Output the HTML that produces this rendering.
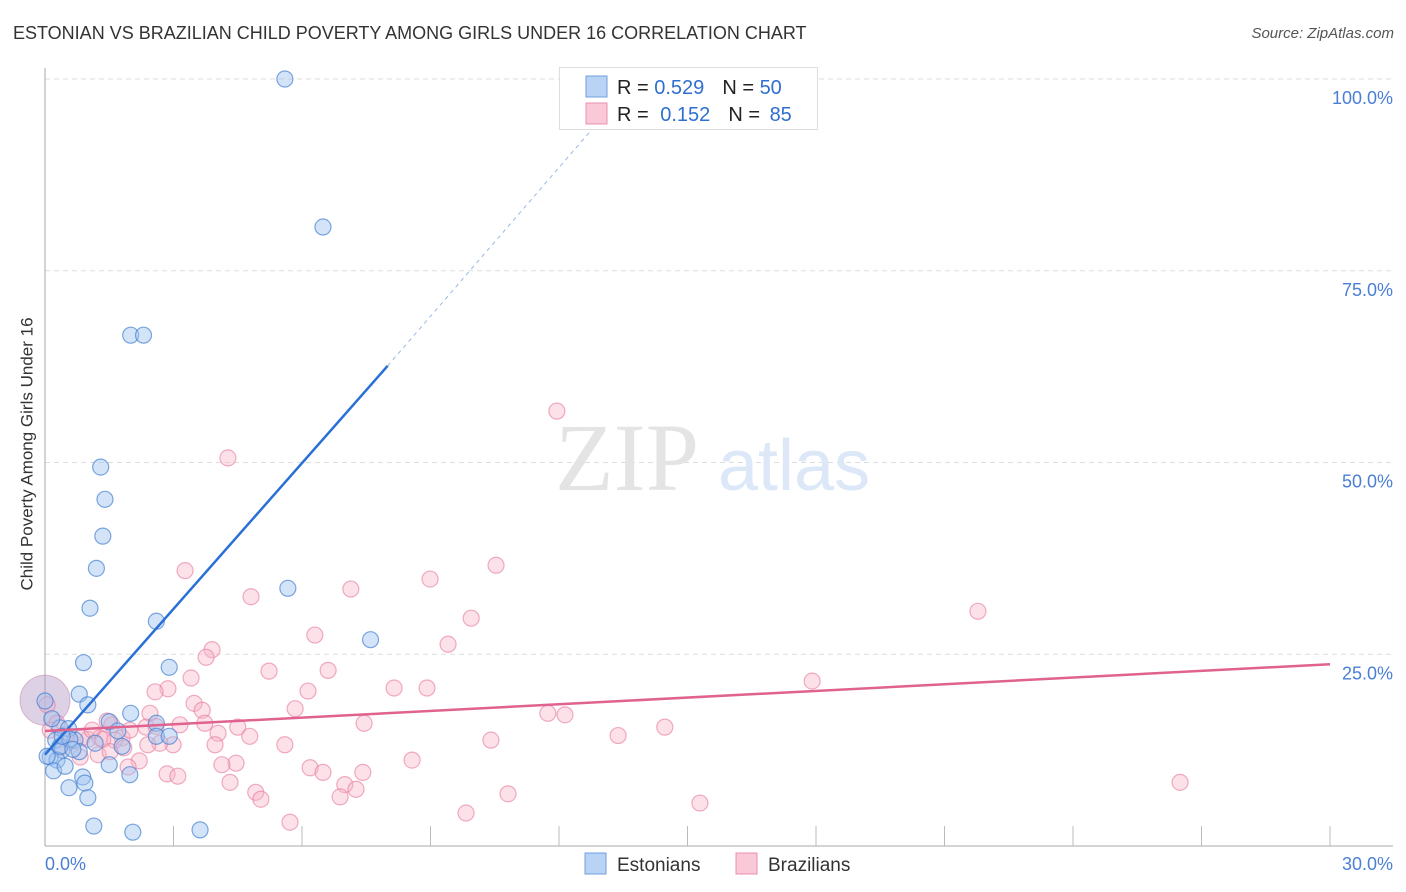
<!DOCTYPE html>
<html><head><meta charset="utf-8"><style>
body{margin:0;background:#fff;font-family:"Liberation Sans",sans-serif;}
#wrap{position:relative;width:1406px;height:892px;overflow:hidden}
.t{position:absolute;white-space:nowrap}
</style></head><body><div id="wrap">
<div class="t" style="left:13px;top:23px;font-size:18px;color:#333;letter-spacing:0px">ESTONIAN VS BRAZILIAN CHILD POVERTY AMONG GIRLS UNDER 16 CORRELATION CHART</div>
<div class="t" style="right:12px;top:25px;font-size:15px;color:#555;font-style:italic">Source: ZipAtlas.com</div>
<div class="t" style="left:-109px;top:444px;font-size:17px;color:#333;transform:rotate(-90deg)">Child Poverty Among Girls Under 16</div>
<svg id="svg" width="1406" height="892" style="position:absolute;left:0;top:0"></svg>
</div>
<script>
const xTicks=[0,30];
const yTicks=[25,50,75,100];
const estX=[5.6,6.49,2.0,2.3,1.3,1.4,1.35,1.2,1.05,2.6,5.67,7.6,0.9,2.9,0.8,1.0,2.0,1.5,2.6,0.35,0.55,1.7,2.6,2.9,0.7,0.25,1.8,0.4,0.8,0.12,0.28,1.5,0.2,0.47,0.88,0.93,0.56,1.98,1.0,1.14,2.05,3.62,0.05,0.35,0.58,0.16,0.0,0.4,0.65,1.17];
const estY=[100,80.7,66.6,66.6,49.4,45.2,40.4,36.2,31.0,29.3,33.6,26.9,23.9,23.3,19.8,18.4,17.3,16.2,16.0,15.4,15.3,15.0,14.3,14.3,13.8,13.8,13.0,12.5,12.3,11.6,11.2,10.6,9.8,10.4,9.0,8.2,7.6,9.3,6.3,2.6,1.8,2.1,11.7,13.0,13.9,16.6,18.9,14.3,12.6,13.4];
const braX=[11.95,4.27,3.27,10.53,8.99,7.14,4.81,21.78,9.95,6.3,9.41,3.9,3.76,2.87,5.23,6.61,3.41,17.91,8.15,8.92,6.14,2.57,3.48,3.67,5.84,2.45,11.74,12.14,1.45,4.5,7.45,14.47,2.36,2.59,3.15,4.04,13.38,10.41,5.6,0.28,0.05,1.8,1.0,1.28,1.63,3.97,2.99,2.68,1.84,1.24,4.46,8.57,4.13,2.2,1.94,6.19,6.49,7.42,2.85,3.1,7.0,4.32,7.26,4.92,6.89,5.04,26.5,10.81,9.83,15.29,5.72,0.86,0.58,0.35,0.12,1.98,1.56,2.4,0.49,1.35,1.1,3.73,4.78,0.82,1.52];
const braY=[56.7,50.6,35.9,36.6,34.8,33.5,32.5,30.6,29.7,27.5,26.3,25.6,24.6,20.5,22.8,22.9,21.9,21.5,20.6,20.6,20.2,20.1,18.6,17.7,17.9,17.3,17.3,17.1,16.3,15.5,16.0,15.5,15.5,15.6,15.8,14.7,14.4,13.8,13.2,16.0,18.4,14.1,13.9,14.1,13.8,13.2,13.2,13.4,12.8,11.9,10.8,11.2,10.6,11.1,10.3,10.2,9.6,9.6,9.4,9.1,8.0,8.3,7.4,7.0,6.4,6.1,8.3,6.8,4.3,5.6,3.1,14.1,13.6,12.8,15.1,15.1,15.8,13.2,14.5,13.9,15.1,16.0,14.3,11.6,12.3];
const blueLine=[0,11.9,8.0,62.6];
const blueDash=[8.0,62.6,12.95,94.6];
const pinkLine=[0,15.0,30,23.7];
const X=v=>45+v/30*1285, Y=v=>846-v/100*767;
const svg=document.getElementById('svg'),NS='http://www.w3.org/2000/svg';
function mk(t,a,p){const e=document.createElementNS(NS,t);for(const k in a)e.setAttribute(k,a[k]);(p||svg).appendChild(e);return e;}
yTicks.forEach(v=>{
const g=mk('line',{x1:45,x2:1393,y1:Y(v),y2:Y(v),stroke:'#ddd','stroke-dasharray':'5,4'});


const t=mk('text',{x:1393,y:Y(v)+25,'text-anchor':'end','font-size':18,fill:'#4a7fd4','font-family':'Liberation Sans'});
t.textContent=v.toFixed(1)+'%';


});
const ax=mk('line',{x1:45,x2:45,y1:68,y2:846,stroke:'#aaa'});


const bx=mk('line',{x1:45,x2:1393,y1:846,y2:846,stroke:'#aaa'});


for(let i=1;i<=10;i++){const x=X(i*3);const tk=mk('line',{x1:x,x2:x,y1:826,y2:846,stroke:'#bbb'});

}
xTicks.forEach((v,i)=>{const t=mk('text',{x:i?1393:45,y:870,'text-anchor':i?'end':'start','font-size':18,fill:'#4a7fd4','font-family':'Liberation Sans'});t.textContent=v.toFixed(1)+'%';

});
const w=mk('text',{x:555,y:490,'font-size':96,fill:'#e4e4e4','font-family':'Liberation Serif'});w.textContent='ZIP';


const w2=mk('text',{x:718,y:490,'font-size':72,fill:'#dce8f8','font-family':'Liberation Sans'});w2.textContent='atlas';


const bg=mk('circle',{cx:X(0),cy:Y(19),r:25,fill:'rgba(170,140,190,0.4)',stroke:'rgba(200,120,160,0.5)'});


braX.forEach((v,i)=>{const c=mk('circle',{cx:X(v),cy:Y(braY[i]),r:8,fill:'rgba(248,180,200,0.4)',stroke:'rgba(230,120,155,0.6)','stroke-width':1.2});

});
estX.forEach((v,i)=>{const c=mk('circle',{cx:X(v),cy:Y(estY[i]),r:8,fill:'rgba(160,195,240,0.45)',stroke:'rgba(70,130,210,0.7)','stroke-width':1.2});

});
const bl=mk('line',{x1:X(blueLine[0]),y1:Y(blueLine[1]),x2:X(blueLine[2]),y2:Y(blueLine[3]),stroke:'#2a6fd6','stroke-width':2.5});


const bd=mk('line',{x1:X(blueDash[0]),y1:Y(blueDash[1]),x2:X(blueDash[2]),y2:Y(blueDash[3]),stroke:'#9ab8e0','stroke-width':1,'stroke-dasharray':'4,4'});


const pl=mk('line',{x1:X(pinkLine[0]),y1:Y(pinkLine[1]),x2:X(pinkLine[2]),y2:Y(pinkLine[3]),stroke:'#e0628e','stroke-width':2.5});


const lb=mk('rect',{x:559.5,y:67.5,width:258,height:62,fill:'#fff',stroke:'#ddd'});


[['#b9d3f5','#6fa0e0','0.529','50',86],['#f9c9d7','#e890ad','0.152','85',113]].forEach((r,i)=>{
const s=mk('rect',{x:586,y:r[4]-10,width:21,height:21,fill:r[0],stroke:r[1]});


const t=mk('text',{x:617,y:r[4]+8,'font-size':20,fill:'#222','font-family':'Liberation Sans'});
t.innerHTML='R = <tspan fill="#2f6fd0" dx="'+(i?6:0)+'">'+r[2]+'</tspan><tspan dx="18">N = </tspan><tspan fill="#2f6fd0" dx="'+(i?4:0)+'">'+r[3]+'</tspan>';


});
[['#b9d3f5','#6fa0e0','Estonians',585],['#f9c9d7','#e890ad','Brazilians',736]].forEach(r=>{
const s=mk('rect',{x:r[3],y:853,width:21,height:21,fill:r[0],stroke:r[1]});


const t=mk('text',{x:r[3]+32,y:871,'font-size':19,fill:'#333','font-family':'Liberation Sans'});t.textContent=r[2];


});
</script></body></html>
